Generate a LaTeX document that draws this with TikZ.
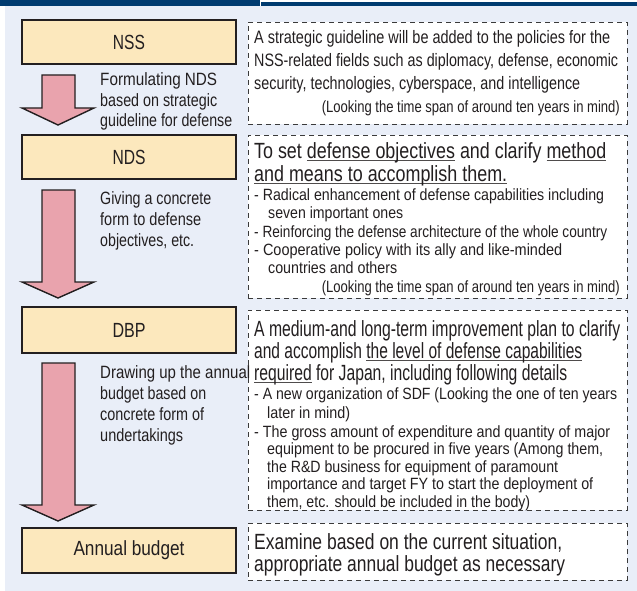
\documentclass[tikz,border=0pt]{standalone}
\usepackage{fontspec}
\usepackage{graphicx}
\setmainfont{Liberation Sans}[FakeStretch=0.8]
\definecolor{ink}{HTML}{231F20}
\definecolor{bgblue}{HTML}{E9EEF8}
\definecolor{boxyellow}{HTML}{FCE8BD}
\definecolor{arrowpink}{HTML}{E9A3AD}
\definecolor{barblue}{HTML}{003B70}
\definecolor{dashgray}{HTML}{3A3A3A}
\newcommand\myul[1]{\setbox0\hbox{#1}\rlap{\color{ink!80}\rule[-2.8pt]{\wd0}{0.9pt}}\box0\relax}
\newcommand\fw[2]{\resizebox{#1pt}{\height}{#2}}
\newcommand\blockarrow[4]{%
  \draw[arrowstyle] (#1-16,#2) -- (#1+17,#2) -- (#1+17,#3) -- (#1+36,#3) -- (#1,#4)
     -- (#1-36,#3) -- (#1-16,#3) -- cycle;}
\tikzset{
  arrowstyle/.style={fill=arrowpink, draw=ink, line width=1.4pt, line join=miter},
  ybox/.style={draw=ink, fill=boxyellow, line width=1.5pt, minimum width=214pt,
    inner sep=0pt, font=\fontsize{20.5}{24}\selectfont, text=ink},
  dbox/.style={draw=dashgray, fill=white, line width=0.8pt, dash pattern=on 5pt off 4pt,
    minimum width=379pt, inner sep=0pt},
  ln/.style={anchor=base west, inner sep=0pt, text=ink},
  lnr/.style={anchor=base east, inner sep=0pt, text=ink},
  labf/.style={ln, font=\fontsize{17.8}{20}\selectfont},
  bigf/.style={ln, font=\fontsize{22}{23}\selectfont},
  midf/.style={ln, font=\fontsize{18}{23}\selectfont},
  smallf/.style={ln, font=\fontsize{16.3}{18}\selectfont},
  smallr/.style={lnr, font=\fontsize{16.3}{18}\selectfont},
}
\begin{document}
\begin{tikzpicture}[x=1pt,y=-1pt]
\useasboundingbox (0,0) rectangle (637,591);
% background
\fill[white] (0,0) rectangle (637,591);
\fill[bgblue] (5,6) rectangle (637,591);
\fill[barblue] (0,0) rectangle (260,6.3);
\fill[barblue] (261,2.2) rectangle (637,6.3);

% yellow boxes
\node[ybox, minimum height=44pt] (nss) at (129,42) {\fw{32}{NSS}};
\node[ybox, minimum height=44pt] (nds) at (129,157) {\fw{33}{NDS}};
\node[ybox, minimum height=46pt] (dbp) at (129,330) {\fw{33}{DBP}};
\node[ybox, minimum height=45pt] (annual) at (129,550.5) {\fw{111}{Annual budget}};

% arrows
\blockarrow{58}{75}{108}{125}
\blockarrow{58}{190}{282}{298}
\blockarrow{58}{363}{505}{521}

% left labels
\node[labf] (la1) at (100,86) {\fw{117}{Formulating NDS}};
\node[labf] (la2) at (100,106.5) {\fw{117}{based on strategic}};
\node[labf] (la3) at (100,127) {\fw{132}{guideline for defense}};
\node[labf] (lb1) at (100,204) {\fw{111}{Giving a concrete}};
\node[labf] (lb2) at (100,225) {\fw{101}{form to defense}};
\node[labf] (lb3) at (100,246) {\fw{94}{objectives, etc.}};

% dashed boxes
\node[dbox, minimum height=102pt] (d1) at (437.5,73) {};
\node[dbox, minimum height=163pt] (d2) at (437.5,216.5) {};
\node[dbox, minimum height=200pt] (d3) at (437.5,410) {};
\node[dbox, minimum height=57pt] (d4) at (437.5,551.5) {};

\node[labf] (lc1) at (100,378) {\fw{150}{Drawing up the annual}};
\node[labf] (lc2) at (100,399) {\fw{106}{budget based on}};
\node[labf] (lc3) at (100,420) {\fw{104}{concrete form of}};
\node[labf] (lc4) at (100,441) {\fw{83}{undertakings}};

% box 1
\node[midf] (a1) at (254,44) {\fw{356}{A strategic guideline will be added to the policies for the}};
\node[midf] (a2) at (254,67) {\fw{364}{NSS-related fields such as diplomacy, defense, economic}};
\node[midf] (a3) at (254,90) {\fw{326}{security, technologies, cyberspace, and intelligence}};
\node[smallr] (a4) at (620,113) {\fw{298}{(Looking the time span of around ten years in mind)}};

% box 2
\node[bigf] (b1) at (254,158) {\fw{352}{To set \myul{defense objectives} and clarify \myul{method}}};
\node[bigf] (b2) at (254,181) {\fw{253}{\myul{and means to accomplish them.}}};
\node[smallf] (b3) at (254,200) {\fw{350}{- Radical enhancement of defense capabilities including}};
\node[smallf] (b4) at (268,218) {\fw{135}{seven important ones}};
\node[smallf] (b5) at (254,237) {\fw{353}{- Reinforcing the defense architecture of the whole country}};
\node[smallf] (b6) at (254,255) {\fw{308}{- Cooperative policy with its ally and like-minded}};
\node[smallf] (b7) at (268,273) {\fw{129}{countries and others}};
\node[smallr] (b8) at (620,292) {\fw{298}{(Looking the time span of around ten years in mind)}};

% box 3
\node[bigf] (c1) at (254,336) {\fw{366}{A medium-and long-term improvement plan to clarify}};
\node[bigf] (c2) at (254,358) {\fw{328}{and accomplish \myul{the level of defense capabilities}}};
\node[bigf] (c3) at (254,380) {\fw{313}{\myul{required} for Japan, including following details}};
\node[smallf] (c4) at (254,399) {\fw{363}{- A new organization of SDF (Looking the one of ten years}};
\node[smallf] (c5) at (267,418) {\fw{83}{later in mind)}};
\node[smallf] (c6) at (254,437) {\fw{356}{- The gross amount of expenditure and quantity of major}};
\node[smallf] (c7) at (267,454.5) {\fw{336}{equipment to be procured in five years (Among them,}};
\node[smallf] (c8) at (267,472) {\fw{291}{the R\&D business for equipment of paramount}};
\node[smallf] (c9) at (267,489.5) {\fw{326}{importance and target FY to start the deployment of}};
\node[smallf] (c10) at (267,507) {\fw{263}{them, etc. should be included in the body)}};

% box 4
\node[bigf] (e1) at (254,549) {\fw{308}{Examine based on the current situation,}};
\node[bigf] (e2) at (254,571) {\fw{311}{appropriate annual budget as necessary}};
\end{tikzpicture}
\end{document}
